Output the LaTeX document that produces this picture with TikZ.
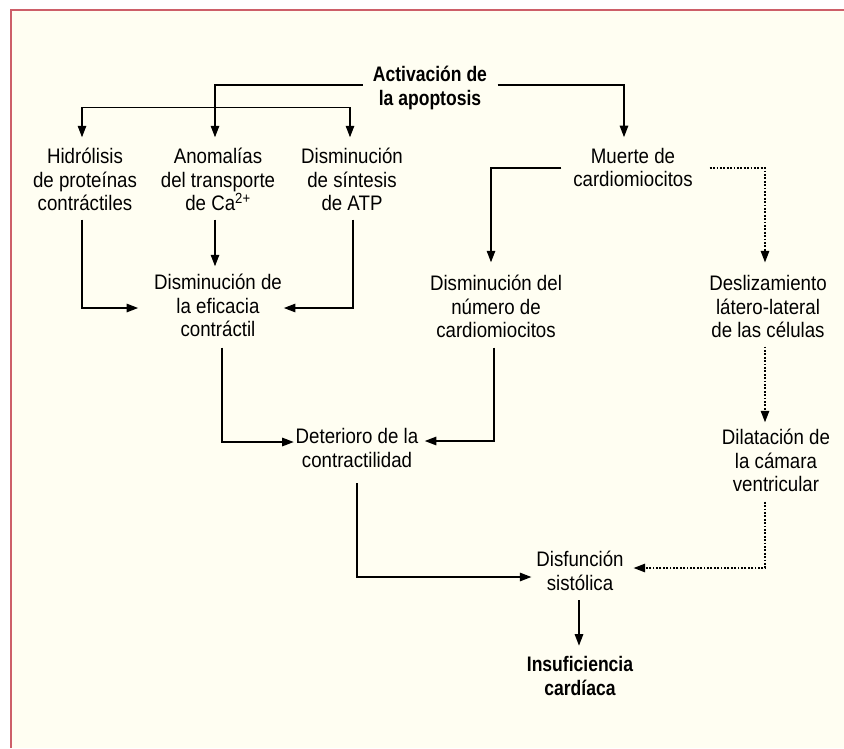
\documentclass[tikz,border=0pt]{standalone}
\usepackage{fontspec}
\setmainfont{Liberation Sans}[FakeStretch=0.89,BoldFeatures={FakeStretch=0.835}]
\usetikzlibrary{arrows.meta}
\definecolor{bgc}{RGB}{255,254,242}
\definecolor{framec}{RGB}{205,95,105}
\newcommand{\stt}{\rule[-5pt]{0pt}{20pt}}
\begin{document}
\begin{tikzpicture}[x=1pt,y=-1pt,
  txt/.style={align=center,inner sep=0pt,outer sep=0pt,font=\fontsize{21}{23.5}\selectfont},
  btxt/.style={txt,font=\fontsize{21}{23.5}\selectfont\bfseries},
  arr/.style={line width=1.3pt,-{Triangle[length=11.5pt,width=8.5pt]}},
  darr/.style={arr,dash pattern=on 1.8pt off 1.6pt}]
\useasboundingbox (0,0) rectangle (844,748);
\fill[bgc] (10,9) rectangle (844,748);
\draw[framec,line width=1.5pt] (10.75,748) -- (10.75,9.75) -- (844,9.75);

\node[btxt] (act) at (430,88.5) {\stt Activación de\\la apoptosis\stt};
\node[txt] (hid) at (85,182) {\stt Hidrólisis\\de proteínas\\contráctiles\stt};
\node[txt] (ano) at (218,182) {\stt Anomalías\\del transporte\\de Ca\textsuperscript{2+}\stt};
\node[txt] (dis) at (352,182) {\stt Disminución\\de síntesis\\de ATP\stt};
\node[txt] (mue) at (633,170) {\stt Muerte de\\cardiomiocitos\stt};
\node[txt] (efi) at (218,308) {\stt Disminución de\\la eficacia\\contráctil\stt};
\node[txt] (num) at (496,309) {\stt Disminución del\\número de\\cardiomiocitos\stt};
\node[txt] (des) at (768,309) {\stt Deslizamiento\\látero-lateral\\de las células\stt};
\node[txt] (det) at (357,450.5) {\stt Deterioro de la\\contractilidad\stt};
\node[txt] (dil) at (776,463) {\stt Dilatación de\\la cámara\\ventricular\stt};
\node[txt] (sis) at (580,573.5) {\stt Disfunción\\sistólica\stt};
\node[btxt] (ins) at (580,678.5) {\stt Insuficiencia\\cardíaca\stt};

% from activation
\draw[arr] ([xshift=-10pt,yshift=3.5pt]act.west) -| ([xshift=-3pt,yshift=11pt]ano.north);
\draw[arr] ([xshift=-3pt,yshift=41pt]ano.north) -| ([xshift=-3pt,yshift=11pt]hid.north);
\draw[arr] ([xshift=-3pt,yshift=41pt]ano.north) -| ([xshift=-2pt,yshift=11pt]dis.north);
\draw[arr] ([xshift=10.5pt,yshift=3.5pt]act.east) -| ([xshift=-9pt,yshift=11pt]mue.north);

% to eficacia
\draw[arr] ([xshift=-3pt,yshift=-4pt]hid.south) |- ([xshift=-16pt]efi.west);
\draw[arr] ([xshift=-3pt,yshift=-4pt]ano.south) -- ([xshift=-3pt,yshift=8pt]efi.north);
\draw[arr] ([xshift=1pt,yshift=-4pt]dis.south) |- ([xshift=2pt]efi.east);

% from muerte
\draw[arr] ([xshift=-12pt,yshift=2pt]mue.west) -| ([xshift=-5pt,yshift=13pt]num.north);
\draw[darr] ([xshift=17pt,yshift=2pt]mue.east) -| ([xshift=-3pt,yshift=13pt]des.north);

% to deterioro
\draw[arr] ([xshift=4pt,yshift=-6pt]efi.south) |- ([xshift=-2pt,yshift=8.5pt]det.west);
\draw[arr] ([xshift=-2pt,yshift=-5pt]num.south) |- ([xshift=6.5pt,yshift=9.5pt]det.east);

% dotted chain
\draw[darr] ([xshift=-3pt,yshift=-4pt]des.south) -- ([xshift=-11pt,yshift=7pt]dil.north);

% to disfuncion
\draw[arr] ([yshift=-11pt]det.south) |- ([xshift=-5pt,yshift=-3.5pt]sis.west);
\draw[darr] ([xshift=-11pt,yshift=-5pt]dil.south) |- ([xshift=10pt,yshift=5.5pt]sis.east);

\draw[arr] ([xshift=-1pt,yshift=-5pt]sis.south) -- ([xshift=-1pt,yshift=11pt]ins.north);
\end{tikzpicture}
\end{document}
